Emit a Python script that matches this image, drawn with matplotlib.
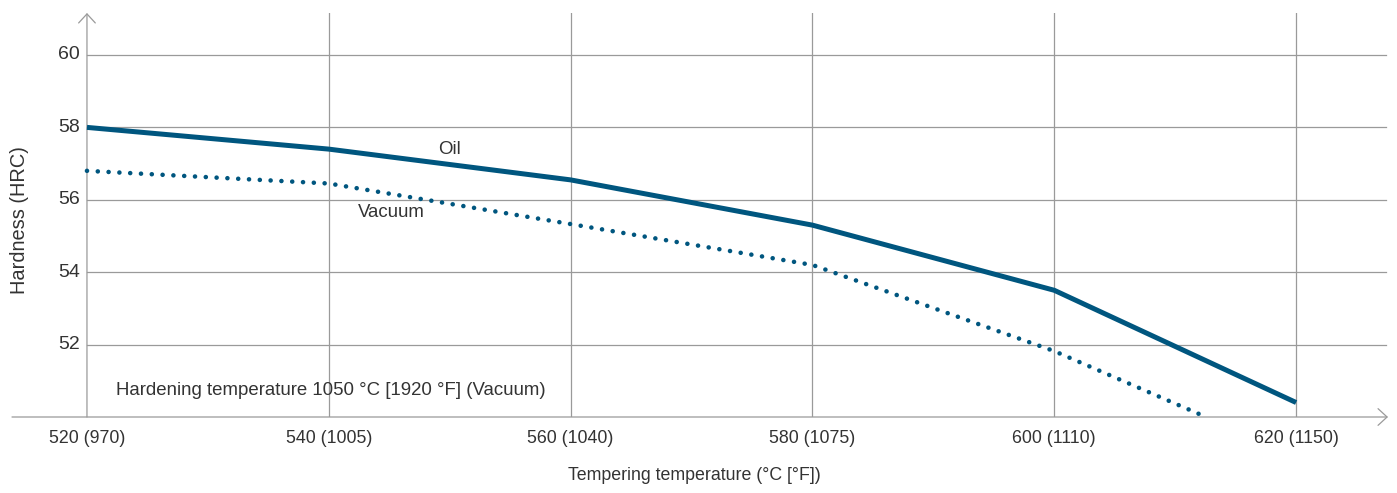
import matplotlib
matplotlib.use("Agg")
import matplotlib.pyplot as plt

# Tempering curve data
temps = [520, 540, 560, 580, 600, 620]
tick_labels = ["520 (970)", "540 (1005)", "560 (1040)", "580 (1075)", "600 (1110)", "620 (1150)"]
oil_hrc = [58.0, 57.4, 56.55, 55.3, 53.5, 50.4]
vac_temps = [520, 540, 560, 580, 600, 612]
vac_hrc = [56.8, 56.45, 55.33, 54.2, 51.82, 50.08]
y_ticks = [52, 54, 56, 58, 60]

plt.rcParams["font.family"] = ["Liberation Sans", "DejaVu Sans"]
blue = "#00567f"
grid = "#9a9a9a"
txt = "#333333"

fig = plt.figure(figsize=(13.97, 4.93), dpi=100)
W, H = 1397, 493
x0, x1, y0, y1 = 12, 1388, 13, 417
ax = fig.add_axes([x0 / W, 1 - y1 / H, (x1 - x0) / W, (y1 - y0) / H])
xmin, xmax = 513.8, 627.6
ymin, ymax = 50.0, 61.16
ax.set_xlim(xmin, xmax)
ax.set_ylim(ymin, ymax)
for s in ax.spines.values():
    s.set_visible(False)
ax.set_xticks([])
ax.set_yticks([])

# grid
for t in temps[1:]:
    ax.plot([t, t], [ymin, ymax], color=grid, lw=0.9, zorder=1)
for v in y_ticks:
    ax.plot([520, 627.4], [v, v], color=grid, lw=0.9, zorder=1)

# axes with open arrow heads
arrow = dict(arrowstyle="->,head_length=0.65,head_width=0.6", color=grid, lw=0.9,
             shrinkA=0, shrinkB=0, mutation_scale=10)
ax.annotate("", xy=(xmax, ymin), xytext=(xmin, ymin), arrowprops=arrow,
            annotation_clip=False)
ax.annotate("", xy=(520, ymax), xytext=(520, ymin), arrowprops=arrow,
            annotation_clip=False)

# curves
ax.plot(temps, oil_hrc, color=blue, lw=3.6, solid_capstyle="butt", zorder=3)
ax.plot(vac_temps, vac_hrc, color=blue, lw=3.3, linestyle=(0, (0.01, 2.35)),
        dash_capstyle="round", zorder=3)

# tick labels
for t, lab in zip(temps, tick_labels):
    ax.text(t, ymin - 0.35, lab, ha="center", va="top", fontsize=12.8, color=txt)
for v in y_ticks:
    ax.text(519.4, v, str(v), ha="right", va="center", fontsize=14, color=txt)

# labels
ax.text(522.4, 50.72, "Hardening temperature 1050 °C [1920 °F] (Vacuum)",
        ha="left", va="center", fontsize=13.4, color=txt)
ax.text(550.0, 57.38, "Oil", ha="center", va="center", fontsize=13.4, color=txt)
ax.text(545.2, 55.64, "Vacuum", ha="center", va="center", fontsize=13.4, color=txt)
fig.text(694 / W, 1 - 476 / H, "Tempering temperature (°C [°F])", ha="center",
         va="center", fontsize=12.8, color=txt)
fig.text(20 / W, 1 - 220 / H, "Hardness (HRC)", ha="center", va="center",
         rotation=90, fontsize=14.4, color=txt)

fig.savefig("out.png", dpi=100)
